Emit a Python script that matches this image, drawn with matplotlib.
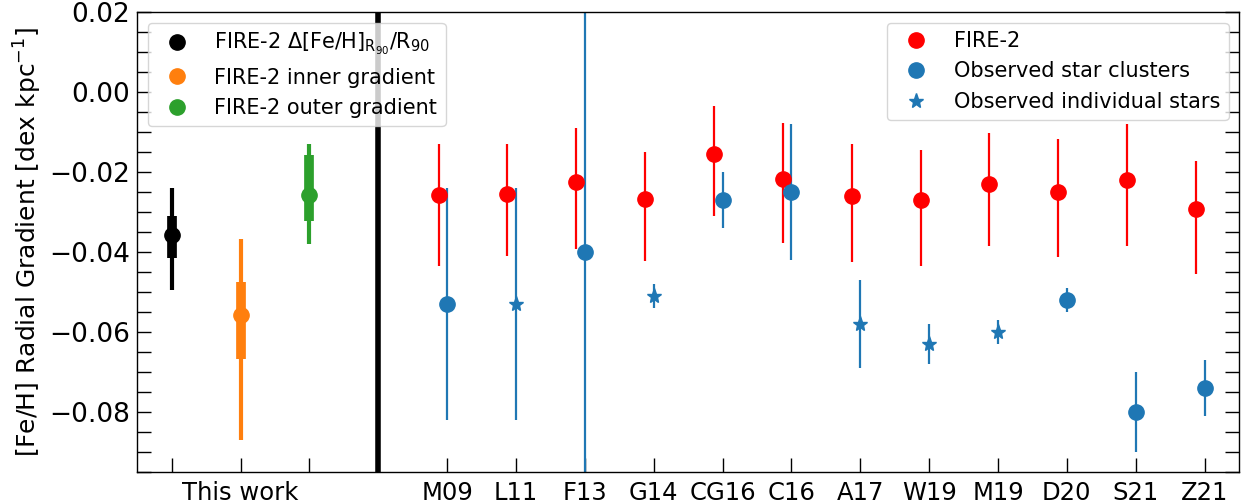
import matplotlib
matplotlib.use("Agg")
import matplotlib.pyplot as plt
from matplotlib.lines import Line2D
from matplotlib.ticker import MultipleLocator

# ---------------- data ----------------
categories = ['M09', 'L11', 'F13', 'G14', 'CG16', 'C16', 'A17', 'W19', 'M19', 'D20', 'S21', 'Z21']

fire_vals = [-0.0256, -0.0254, -0.0225, -0.0266, -0.0154, -0.0216,
             -0.0259, -0.0269, -0.0228, -0.0248, -0.0219, -0.0291]
fire_err_up = [0.0128, 0.0124, 0.0135, 0.0118, 0.0120, 0.0140,
               0.0129, 0.0125, 0.0126, 0.0131, 0.0140, 0.0119]
fire_err_down = [0.0178, 0.0155, 0.0167, 0.0156, 0.0154, 0.0161,
                 0.0165, 0.0165, 0.0156, 0.0163, 0.0164, 0.0163]

obs_vals = [-0.053, -0.053, -0.040, -0.051, -0.027, -0.025,
            -0.058, -0.063, -0.060, -0.052, -0.080, -0.074]
obs_err = [0.029, 0.029, 0.200, 0.003, 0.007, 0.017,
           0.011, 0.005, 0.003, 0.003, 0.010, 0.007]
obs_type = ['cluster', 'stars', 'cluster', 'stars', 'cluster', 'cluster',
            'stars', 'stars', 'stars', 'cluster', 'cluster', 'cluster']

# this work: [R90 gradient, inner gradient, outer gradient]
this_labels = [r'FIRE-2 $\Delta$[Fe/H]$_{\mathrm{R_{90}}}$/R$_{90}$',
               'FIRE-2 inner gradient', 'FIRE-2 outer gradient']
this_colors = ['black', 'tab:orange', 'tab:green']
this_vals = [-0.0357, -0.0557, -0.0257]
this_thick_up = [0.0049, 0.0082, 0.0101]
this_thick_down = [0.0057, 0.0110, 0.0064]
this_thin_up = [0.0119, 0.0190, 0.0128]
this_thin_down = [0.0136, 0.0313, 0.0122]

# ---------------- figure ----------------
fig = plt.figure(figsize=(12.47, 5.03), dpi=100)
ax = fig.add_axes([0.1101, 0.061, 0.8835, 0.9145])

this_x = [-4, -3, -2]
for i in range(3):
    ax.errorbar(this_x[i], this_vals[i],
                yerr=[[this_thin_down[i]], [this_thin_up[i]]],
                fmt='none', ecolor=this_colors[i], elinewidth=3, capsize=0)
    ax.errorbar(this_x[i], this_vals[i],
                yerr=[[this_thick_down[i]], [this_thick_up[i]]],
                fmt='o', color=this_colors[i], ms=11, elinewidth=7, capsize=0)

ax.axvline(-1, color='black', lw=4)

cat_x = list(range(len(categories)))
fire_x = [x - 0.125 for x in cat_x]
ax.errorbar(fire_x, fire_vals, yerr=[fire_err_down, fire_err_up],
            fmt='o', color='red', ms=11, elinewidth=1.6, capsize=0)

for i, x in enumerate(cat_x):
    mk = 'o' if obs_type[i] == 'cluster' else '*'
    ms = 11 if obs_type[i] == 'cluster' else 11
    ax.errorbar(x, obs_vals[i], yerr=obs_err[i], fmt=mk, color='tab:blue',
                ms=ms, elinewidth=1.6, capsize=0)

ax.set_xlim(-4.5, 11.5)
ax.set_ylim(-0.095, 0.02)

xt = this_x + cat_x
xl = ['', 'This work', ''] + categories
ax.set_xticks(xt)
ax.set_xticklabels(xl, fontsize=17.5)

ax.yaxis.set_major_locator(MultipleLocator(0.02))
ax.yaxis.set_minor_locator(MultipleLocator(0.005))
ax.tick_params(axis='y', which='both', direction='in', left=True, right=True,
               length=10, width=1, labelsize=19, pad=5)
ax.tick_params(axis='x', which='both', direction='in', bottom=True, top=False,
               length=10, width=1, pad=6)
ax.set_ylabel(r'[Fe/H] Radial Gradient [dex kpc$^{-1}$]', fontsize=18, labelpad=4)

for s in ax.spines.values():
    s.set_linewidth(1.0)

h1 = [Line2D([], [], ls='none', marker='o', color=c, ms=11) for c in this_colors]
leg1 = ax.legend(h1, this_labels, loc='upper left', fontsize=15,
                 bbox_to_anchor=(0.0, 1.0), borderaxespad=0.5)
ax.add_artist(leg1)
h2 = [Line2D([], [], ls='none', marker='o', color='red', ms=11),
      Line2D([], [], ls='none', marker='o', color='tab:blue', ms=11),
      Line2D([], [], ls='none', marker='*', color='tab:blue', ms=11)]
ax.legend(h2, ['FIRE-2', 'Observed star clusters', 'Observed individual stars'],
          loc='upper right', fontsize=15, borderaxespad=0.5)

fig.savefig('out.png', dpi=100)
